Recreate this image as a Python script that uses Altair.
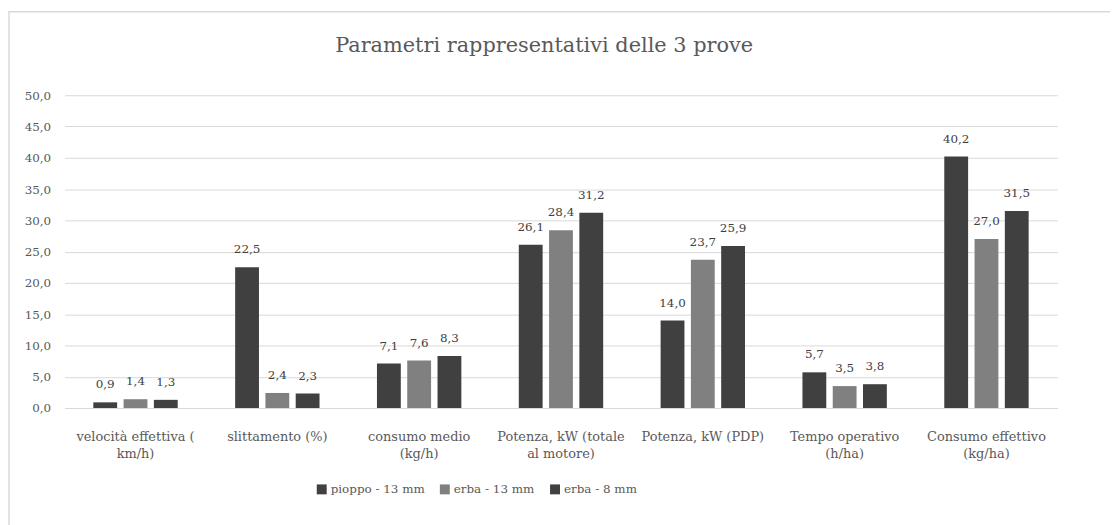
import altair as alt
import pandas as pd

categories = [
    "velocità effettiva (|km/h)",
    "slittamento (%)",
    "consumo medio|(kg/h)",
    "Potenza, kW  (totale|al motore)",
    "Potenza, kW  (PDP)",
    "Tempo operativo|(h/ha)",
    "Consumo effettivo|(kg/ha)",
]
series = ["pioppo - 13 mm", "erba - 13 mm", "erba - 8 mm"]
pioppo_13 = [0.9, 22.5, 7.1, 26.1, 14.0, 5.7, 40.2]
erba_13 = [1.4, 2.4, 7.6, 28.4, 23.7, 3.5, 27.0]
erba_8 = [1.3, 2.3, 8.3, 31.2, 25.9, 3.8, 31.5]
colors = ["#404040", "#808080", "#404040"]
y_ticks = [0, 5, 10, 15, 20, 25, 30, 35, 40, 45, 50]

rows = []
for vals, s in zip([pioppo_13, erba_13, erba_8], series):
    for c, v in zip(categories, vals):
        rows.append({"categoria": c, "serie": s, "valore": v})
df = pd.DataFrame(rows)

FONT = "DejaVu Serif"
TXT = "#595959"
FS = 12

x_enc = alt.X(
    "categoria:N",
    sort=categories,
    scale=alt.Scale(paddingInner=0.405, paddingOuter=0.2025),
    axis=alt.Axis(
        title=None,
        labelAngle=0,
        labelExpr="split(datum.label, '|')",
        labelFont=FONT,
        labelFontSize=13,
        labelColor=TXT,
        labelPadding=23,
        labelLineHeight=17,
        ticks=False,
        domain=True,
        domainColor="#d9d9d9",
        domainWidth=1,
        grid=False,
        labelLimit=200,
    ),
)
xoff = alt.XOffset("serie:N", sort=series, scale=alt.Scale(paddingInner=0.213, paddingOuter=0))
y_enc = alt.Y(
    "valore:Q",
    scale=alt.Scale(domain=[0, 50], nice=False),
    axis=alt.Axis(
        title=None,
        values=y_ticks,
        labelExpr="replace(format(datum.value, '.1f'), '.', ',')",
        labelFont=FONT,
        labelFontSize=FS,
        labelColor=TXT,
        labelPadding=14,
        labelOverlap=False,
        ticks=False,
        domain=False,
        grid=True,
        gridColor="#d9d9d9",
        gridWidth=1,
    ),
)

base = alt.Chart(df)

bars = base.mark_bar().encode(
    x=x_enc,
    xOffset=xoff,
    y=y_enc,
    color=alt.Color(
        "serie:N",
        sort=series,
        scale=alt.Scale(domain=series, range=colors),
        legend=alt.Legend(
            title=None,
            orient="none",
            legendX=253,
            legendY=391,
            direction="horizontal",
            symbolType="square",
            symbolSize=100,
            symbolStrokeWidth=0,
            labelFont=FONT,
            labelFontSize=FS,
            labelColor=TXT,
            columnPadding=14,
            labelOffset=3,
        ),
    ),
)

labels = base.transform_calculate(
    lab="replace(format(datum.valore, '.1f'), '.', ',')"
).mark_text(
    baseline="bottom", dy=-11, font=FONT, fontSize=FS, color="#404040"
).encode(
    x=x_enc,
    xOffset=xoff,
    y=y_enc,
    text="lab:N",
)

frame = alt.Chart(pd.DataFrame({"k": [0]})).mark_rect(
    fill=None, stroke="#d9d9d9", strokeWidth=1.5, clip=False
).encode(
    x=alt.value(-56), x2=alt.value(1300), y=alt.value(-84), y2=alt.value(700)
)

title_txt = alt.Chart(pd.DataFrame({"t": ["Parametri rappresentativi delle 3 prove"]})).mark_text(
    font=FONT, fontSize=21, color=TXT, align="center", baseline="alphabetic"
).encode(
    x=alt.value(483), y=alt.value(-44), text="t:N"
)

chart = alt.layer(frame, bars, labels, title_txt).properties(
    width=1000,
    height=315,
    autosize=alt.AutoSizeParams(type="none"),
    padding={"left": 57, "top": 86, "right": 53, "bottom": 116},
    background="white",
).configure_view(stroke=None)

chart.save("out.html", embed_options={"renderer": "svg", "actions": False})
